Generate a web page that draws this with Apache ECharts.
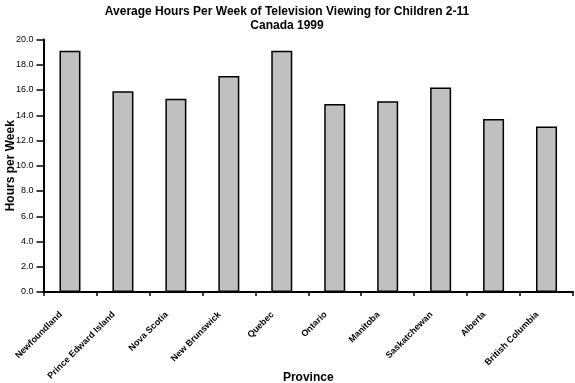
<!DOCTYPE html>
<html><head><meta charset="utf-8">
<script src="https://cdn.jsdelivr.net/npm/echarts@6/dist/echarts.min.js"></script>
<style>html,body{margin:0;padding:0;background:#fff}#c{width:575px;height:383px}</style>
</head><body><div id="c"></div>
<script>
const provinces = ["Newfoundland","Prince Edward Island","Nova Scotia","New Brunswick","Quebec","Ontario","Manitoba","Saskatchewan","Alberta","British Columbia"];
const hours = [19.1, 15.9, 15.3, 17.1, 19.1, 14.9, 15.1, 16.2, 13.7, 13.1];
const titleLines = ["Average Hours Per Week of Television Viewing for Children 2-11", "Canada 1999"];

const chart = echarts.init(document.getElementById('c'), null, {renderer:'canvas'});
const F = '"Liberation Sans", Arial, sans-serif';
chart.setOption({
  animation:false,
  title:{text:titleLines.join('\n'), left:282, top:0, textAlign:'center',
    textStyle:{fontFamily:F, fontSize:12, fontWeight:'bold', color:'#000', lineHeight:14}},
  grid:{left:43.5, right:2, top:39.5, bottom:91, containLabel:false, outerBoundsMode:'none'},
  xAxis:{type:'category', data:provinces, name:'Province', nameLocation:'middle', nameGap:86, nameMoveOverlap:false,
    nameTextStyle:{fontFamily:F, fontSize:12, fontWeight:'bold', color:'#000', verticalAlign:'middle'},
    axisLine:{lineStyle:{color:'#000', width:2}},
    axisTick:{show:true, length:4, lineStyle:{color:'#000', width:1.5}, alignWithLabel:false},
    axisLabel:{rotate:45, fontFamily:F, fontSize:9, fontWeight:'bold', color:'#000', margin:12, interval:0,
      padding:[0,13,0,0]}},
  yAxis:{type:'value', min:0, max:20, interval:2, name:'Hours per Week', nameLocation:'middle', nameGap:27, nameMoveOverlap:false,
    nameTextStyle:{fontFamily:F, fontSize:12, fontWeight:'bold', color:'#000'},
    axisLine:{show:true, lineStyle:{color:'#000', width:2}},
    axisTick:{show:true, length:7, lineStyle:{color:'#000', width:1.5}},
    splitLine:{show:false},
    axisLabel:{formatter:v=>v.toFixed(1), fontFamily:F, fontSize:9, color:'#000', margin:10}},
  series:[{type:'bar', data:hours, barWidth:21,
    itemStyle:{color:'#c0c0c0', borderColor:'#000', borderWidth:1.5}}]
});
</script></body></html>
